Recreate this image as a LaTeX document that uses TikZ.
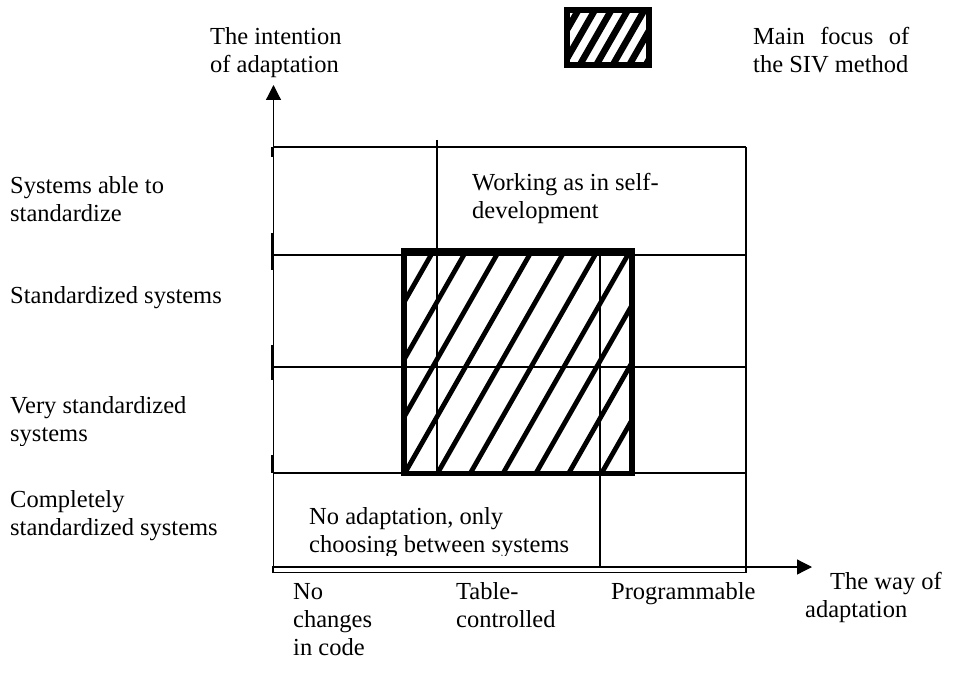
\documentclass[tikz,border=0pt]{standalone}
\usepackage{fontspec}
\setmainfont{Liberation Serif}
\usetikzlibrary{arrows.meta}
\begin{document}
\begin{tikzpicture}[x=1pt,y=-1pt,
  txt/.style={anchor=base west,inner sep=0pt,align=left,font=\fontsize{24.5}{28}\selectfont},
  gridline/.style={line width=1.4pt},
  axisline/.style={line width=1.2pt,-{Triangle[length=15pt,width=15pt]}},
  axtick/.style={line width=3pt},
  hatchline/.style={line width=4.8pt},
  focusframe/.style={line width=5.5pt,line join=miter},
  legendhatch/.style={line width=6.5pt},
]
\useasboundingbox (0,0) rectangle (960,679);

% axes
\coordinate (O) at (273.5,567);
\coordinate (ytip) at (273.5,85);
\coordinate (xtip) at (812,567);
\draw[axisline] (O) -- (ytip);
\draw[axisline] (O) -- (xtip);

% short heavy marks on the vertical axis
\draw[axtick] (272,147) -- (272,157);
\draw[axtick] (272,233) -- (272,270);
\draw[axtick] (272,345) -- (272,380);
\draw[axtick] (272,455) -- (272,473);

% grid of the classification
\draw[line width=2.2pt] (273,147) -- (746,147);
\draw[gridline] (746,147) -- (746,572.5) -- (273,572.5) -- (273,566);
\draw[gridline] (273,255) -- (746,255);
\draw[gridline] (273,367) -- (746,367);
\draw[gridline] (273,473) -- (746,473);
\draw[gridline] (437,140) -- (437,473);
\draw[gridline] (600,255) -- (600,567);

% hatched main area
\begin{scope}
  \clip (404,251) rectangle (632,473.5);
  \foreach \k in {-1,...,11}{
    \draw[hatchline] ({433.3+32.8*\k+6.3},240) -- ({433.3+32.8*\k-133.7},485);
  }
\end{scope}
\draw[focusframe] (404,251) rectangle (632,473.5);

% legend symbol
\begin{scope}
  \clip (567,10) rectangle (649,65);
  \foreach \k in {-2,...,6}{
    \draw[legendhatch] ({580+16.5*\k+40},-5) -- ({580+16.5*\k-10},82);
  }
\end{scope}
\draw[line width=6pt] (567,10) rectangle (649,65);

% axis titles and legend text (base anchor = baseline of the last line)
\node[txt] (ytitle) at (210,73) {The intention\\of adaptation};
\node[txt] (legendtxt) at (753,73) {\makebox[156pt][s]{Main focus of}\\the SIV method};
\node[txt] (xtitle) at (830,589) {The way of};
\node[txt] (xtitle2) at (805,617) {adaptation};

% row labels
\node[txt] (r4) at (10,221) {Systems able to\\standardize};
\node[txt] (r3) at (10,303) {Standardized systems};
\begin{scope}
  \clip (0,380) rectangle (270,445);
  \node[txt] (r2) at (10,441) {Very standardized\\systems};
\end{scope}
\node[txt] (r1) at (10,535) {Completely\\standardized systems};

% column labels
\node[txt] (c1) at (293,655) {No\\changes\\in code};
\node[txt] (c2) at (456,627) {Table-\\controlled};
\node[txt] (c3) at (611,599) {Programmable};

% texts inside the grid
\begin{scope}
  \clip (440,160) rectangle (740,223);
  \node[txt] (topcell) at (472,218) {Working as in self-\\development};
\end{scope}
\begin{scope}
  \clip (280,490) rectangle (598,555);
  \node[txt] (bottomcell) at (309,552) {No adaptation, only\\choosing between systems};
\end{scope}
\end{tikzpicture}
\end{document}
